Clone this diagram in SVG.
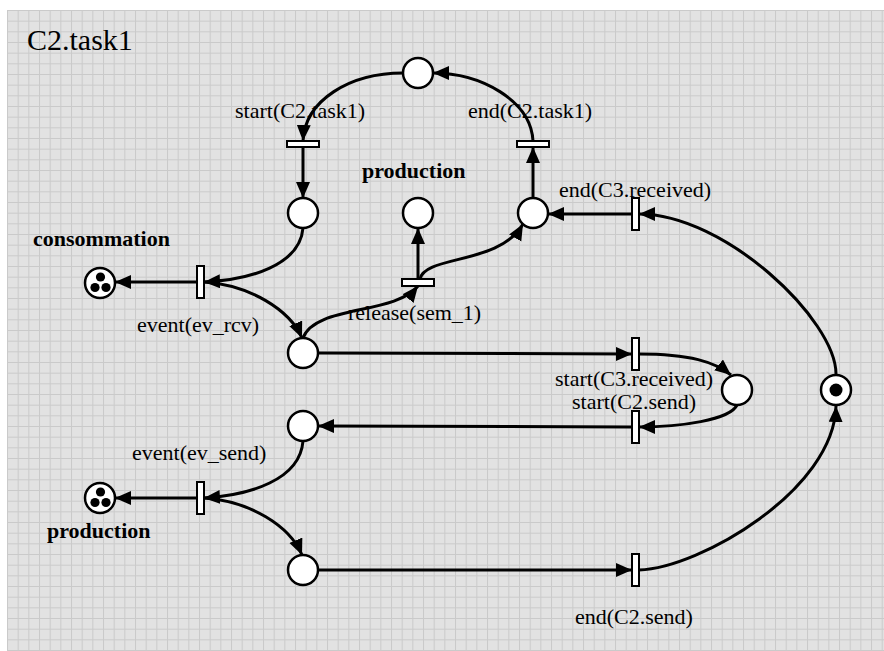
<svg xmlns="http://www.w3.org/2000/svg" width="884" height="651" viewBox="0 0 884 651">
<defs>
<pattern id="grid" patternUnits="userSpaceOnUse" x="7" y="10" width="10.667" height="10.667">
<rect width="10.667" height="10.667" fill="#e2e2e2"/>
<path d="M0,0.5 H10.667 M0.5,0 V10.667" stroke="#cacaca" stroke-width="1" fill="none"/>
</pattern>
<marker id="arr" markerUnits="userSpaceOnUse" markerWidth="17" markerHeight="15" refX="16" refY="7" orient="auto">
<path d="M0,0 L16,7 L0,14 z" fill="#000"/>
</marker>
</defs>
<style>
.pl{fill:#fff;stroke:#000;stroke-width:2.5}
.tr{fill:#fff;stroke:#000;stroke-width:2}
.arc{fill:none;stroke:#000;stroke-width:3;marker-end:url(#arr)}
.tok{fill:#000}
.title{font-family:"Liberation Serif","Times New Roman",serif;font-size:30px;fill:#000}
.lbl{font-family:"Liberation Serif","Times New Roman",serif;font-size:22px;fill:#000}
.bold{font-family:"Liberation Serif","Times New Roman",serif;font-size:22px;font-weight:bold;fill:#000}
</style>
<rect x="0" y="0" width="884" height="651" fill="#fff"/>
<rect x="7" y="10" width="877" height="641" fill="url(#grid)"/>
<text class="title" x="27" y="50">C2.task1</text>

<g id="connectors">
<path class="arc" d="M403,73 C350,73 305,100 303,141"/>
<path class="arc" d="M303,147 L303,198"/>
<path class="arc" d="M533,141 C531,100 480,73 433,73"/>
<path class="arc" d="M533,198 L533,147"/>
<path class="arc" d="M632,214 L548,214"/>
<path class="arc" d="M836,374 C836,320 725,214 639,214"/>
<path class="arc" d="M303,228 C300,265 250,280 204,282"/>
<path class="arc" d="M197,282 L115,282"/>
<path class="arc" d="M204,282 C250,285 290,310 302,338"/>
<path class="arc" d="M303,338 C315,305 395,315 418,286"/>
<path class="arc" d="M418,279 L418,228"/>
<path class="arc" d="M420,279 C425,255 500,265 523,224"/>
<path class="arc" d="M318,353 L632,354"/>
<path class="arc" d="M639,354 C690,354 715,362 731,375"/>
<path class="arc" d="M737,405 C730,420 680,427 639,427"/>
<path class="arc" d="M632,427 L318,426"/>
<path class="arc" d="M303,441 C300,480 250,495 204,498"/>
<path class="arc" d="M197,498 L115,498"/>
<path class="arc" d="M204,498 C250,501 290,526 302,555"/>
<path class="arc" d="M318,570 L632,570"/>
<path class="arc" d="M639,570 C700,568 834,490 836,406"/>
</g>

<g id="p_top"><circle class="pl" cx="418" cy="73" r="15"/></g>
<g id="p_left"><circle class="pl" cx="303" cy="213" r="15"/></g>
<g id="p_prod_sem"><circle class="pl" cx="418" cy="213" r="15"/><text class="bold" x="362" y="178">production</text></g>
<g id="p_right"><circle class="pl" cx="533" cy="213" r="15"/></g>
<g id="p_consommation"><circle class="pl" cx="100" cy="283" r="15"/><circle class="tok" cx="100.5" cy="277" r="4.6"/><circle class="tok" cx="95" cy="287.5" r="4.6"/><circle class="tok" cx="106" cy="287.5" r="4.6"/><text class="bold" x="33" y="246">consommation</text></g>
<g id="p_a"><circle class="pl" cx="303" cy="353" r="15"/></g>
<g id="p_b"><circle class="pl" cx="303" cy="426" r="15"/></g>
<g id="p_c"><circle class="pl" cx="303" cy="570" r="15"/></g>
<g id="p_mid2"><circle class="pl" cx="737" cy="390" r="15"/></g>
<g id="p_marked"><circle class="pl" cx="836" cy="390" r="15"/><circle class="tok" cx="836" cy="390" r="6.5"/></g>
<g id="p_production"><circle class="pl" cx="100" cy="498" r="15"/><circle class="tok" cx="100.5" cy="492" r="4.6"/><circle class="tok" cx="95" cy="502.5" r="4.6"/><circle class="tok" cx="106" cy="502.5" r="4.6"/><text class="bold" x="47" y="538">production</text></g>

<g id="t_start_task1"><rect class="tr" x="287" y="141" width="32" height="6"/><text class="lbl" x="235" y="118">start(C2.task1)</text></g>
<g id="t_end_task1"><rect class="tr" x="517" y="141" width="32" height="6"/><text class="lbl" x="468" y="118">end(C2.task1)</text></g>
<g id="t_end_c3"><rect class="tr" x="632" y="198" width="7" height="32"/><text class="lbl" x="559" y="197">end(C3.received)</text></g>
<g id="t_ev_rcv"><rect class="tr" x="197" y="266" width="7" height="32"/><text class="lbl" x="137" y="332">event(ev_rcv)</text></g>
<g id="t_release"><rect class="tr" x="402" y="279" width="32" height="7"/><text class="lbl" x="348" y="320">release(sem_1)</text></g>
<g id="t_start_c3"><rect class="tr" x="632" y="338" width="7" height="32"/><text class="lbl" x="555" y="386">start(C3.received)</text></g>
<g id="t_start_send"><rect class="tr" x="632" y="411" width="7" height="32"/><text class="lbl" x="572" y="409">start(C2.send)</text></g>
<g id="t_ev_send"><rect class="tr" x="197" y="482" width="7" height="32"/><text class="lbl" x="132" y="460">event(ev_send)</text></g>
<g id="t_end_send"><rect class="tr" x="632" y="554" width="7" height="32"/><text class="lbl" x="575" y="624">end(C2.send)</text></g>
</svg>
